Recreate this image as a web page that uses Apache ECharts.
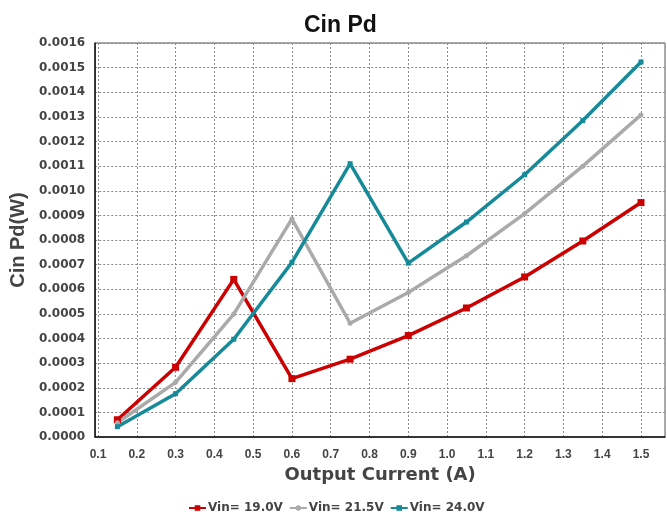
<!DOCTYPE html>
<html><head><meta charset="utf-8">
<script src="https://cdn.jsdelivr.net/npm/echarts@6/dist/echarts.min.js"></script>
<style>html,body{margin:0;padding:0;background:#fff}#c{width:667px;height:512px}</style>
</head><body><div id="c"></div>
<script>
const xValues = [0.15, 0.3, 0.45, 0.6, 0.75, 0.9, 1.05, 1.2, 1.35, 1.5];
const vin19 = [0.00007, 0.000283, 0.00064, 0.000237, 0.000316, 0.000412, 0.000524, 0.00065, 0.000796, 0.000952];
const vin215 = [0.000058, 0.000222, 0.000499, 0.000886, 0.000462, 0.000587, 0.000736, 0.000907, 0.0011, 0.001308];
const vin24 = [0.000042, 0.000176, 0.000397, 0.000709, 0.00111, 0.000706, 0.000873, 0.001065, 0.001285, 0.001523];
const seriesNames = ['Vin= 19.0V', 'Vin= 21.5V', 'Vin= 24.0V'];
const colors = ['#CC0000', '#AAAAAA', '#178A99'];

const pair = arr => xValues.map((x, i) => [x, arr[i]]);
const font = 'Liberation Sans, Arial, sans-serif';
const wide = 'DejaVu Sans, Verdana, sans-serif';
const split = { show: true, lineStyle: { color: '#8a8a8a', type: [2, 2], width: 1 } };

const chart = echarts.init(document.getElementById('c'));
chart.setOption({
  animation: false,
  title: { text: 'Cin Pd', left: 299, top: 9, textStyle: { fontFamily: font, fontWeight: 'bold', fontSize: 23, color: '#111' } },
  legend: {
    top: 497, left: 183, itemGap: 6, itemWidth: 17, itemHeight: 7,
    textStyle: { fontFamily: wide, fontWeight: 'bold', fontSize: 12, color: '#444', padding: [0, 0, 0, -3] },
    data: seriesNames
  },
  grid: [
    { left: 98, right: 26, top: 43, bottom: 75 },
    { left: 91, right: 2, top: 43, bottom: 75, show: true, borderColor: '#555', borderWidth: 1 }
  ],
  xAxis: [
    { gridIndex: 0, type: 'value', min: 0.1, max: 1.5, interval: 0.1,
      axisLine: { show: false }, axisTick: { show: false }, splitLine: split,
      axisLabel: { fontFamily: font, fontWeight: 'bold', fontSize: 12, color: '#444', margin: 12, formatter: v => v.toFixed(1) } },
    { gridIndex: 1, type: 'value', min: 0, max: 1, axisLabel: { show: false }, axisTick: { show: false }, splitLine: { show: false },
      axisLine: { show: true, lineStyle: { color: '#111', width: 1.5 } },
      name: 'Output Current (A)', nameLocation: 'middle', nameGap: 29,
      nameTextStyle: { fontFamily: wide, fontWeight: 'bold', fontSize: 18, color: '#444' } }
  ],
  yAxis: [
    { gridIndex: 0, type: 'value', min: 0, max: 0.0016, show: false, splitLine: { show: false } },
    { gridIndex: 1, type: 'value', min: 0, max: 0.0016, interval: 0.0001,
      axisLine: { show: true, lineStyle: { color: '#111', width: 1.5 } }, axisTick: { show: false }, splitLine: split,
      axisLabel: { fontFamily: wide, fontWeight: 'bold', fontSize: 12, color: '#444', margin: 10, formatter: v => v.toFixed(4) },
      name: 'Cin Pd(W)', nameLocation: 'middle', nameGap: 64,
      nameTextStyle: { fontFamily: font, fontWeight: 'bold', fontSize: 20, color: '#444' } }
  ],
  series: [
    { name: seriesNames[0], type: 'line', xAxisIndex: 0, yAxisIndex: 0, data: pair(vin19), color: colors[0],
      symbol: 'rect', symbolSize: 7, lineStyle: { width: 3.5 } },
    { name: seriesNames[1], type: 'line', xAxisIndex: 0, yAxisIndex: 0, data: pair(vin215), color: colors[1],
      symbol: 'circle', symbolSize: 5, lineStyle: { width: 3.5 } },
    { name: seriesNames[2], type: 'line', xAxisIndex: 0, yAxisIndex: 0, data: pair(vin24), color: colors[2],
      symbol: 'rect', symbolSize: 5, lineStyle: { width: 3.5 } }
  ]
});
</script></body></html>
